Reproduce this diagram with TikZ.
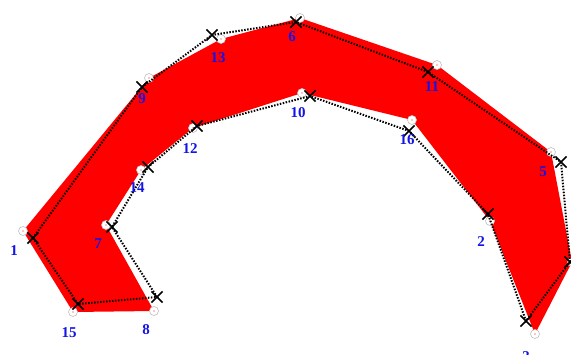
\documentclass[tikz,border=0pt]{standalone}
\usepackage{fontspec}
\setmainfont{Liberation Serif}
\usetikzlibrary{shapes.misc}
\definecolor{lblue}{RGB}{20,20,230}
\tikzset{
  vtx/.style={circle,draw=black!25,fill=white,line width=0.6pt,minimum size=9pt,inner sep=0pt},
  vdot/.style={circle,fill=red,minimum size=1.3pt,inner sep=0pt},
  xmark/.style={cross out,draw=black,line width=1.6pt,minimum size=9.5pt,inner sep=0pt},
  dotline/.style={draw=black,line width=2pt,dash pattern=on 1.5pt off 1.5pt},
  lbl/.style={text=lblue,font=\fontsize{15}{15}\selectfont\bfseries,inner sep=0pt}
}
\begin{document}
\begin{tikzpicture}[x=1pt,y=-1pt]
\useasboundingbox (0,0) rectangle (571,354);
% polygon vertices
\coordinate (v1) at (23,231);
\coordinate (v15) at (73,312);
\coordinate (v8) at (154,311);
\coordinate (v7) at (106,225);
\coordinate (v14) at (141,170);
\coordinate (v12) at (193,128);
\coordinate (v10) at (302,93);
\coordinate (v16) at (412,120);
\coordinate (v2) at (490,221);
\coordinate (v3) at (535,334);
\coordinate (v4) at (572,262);
\coordinate (v5) at (551,152);
\coordinate (v11) at (437,65);
\coordinate (v6) at (300,18);
\coordinate (v13) at (221,39);
\coordinate (v9) at (149,78);
\fill[red] (v1)--(v15)--(v8)--(v7)--(v14)--(v12)--(v10)--(v16)--(v2)--(v3)--(v4)--(v5)--(v11)--(v6)--(v13)--(v9)--cycle;
\foreach \i in {1,15,8,7,14,12,10,16,2,3,4,5,11,6,13,9}{
  \node[vtx] (c\i) at (v\i) {};
  \node[vdot] (d\i) at (v\i) {};
}
% X markers
\node[xmark] (x1) at (33,238) {};
\node[xmark] (x15) at (78,304) {};
\node[xmark] (x8) at (157,297) {};
\node[xmark] (x7) at (112,227) {};
\node[xmark] (x14) at (148,167) {};
\node[xmark] (x12) at (197,126) {};
\node[xmark] (x10) at (310,96) {};
\node[xmark] (x16) at (409,131) {};
\node[xmark] (x2) at (488,214) {};
\node[xmark] (x3) at (526,321) {};
\node[xmark] (x4) at (570,262) {};
\node[xmark] (x5) at (561,162) {};
\node[xmark] (x11) at (428,72) {};
\node[xmark] (x6) at (296,22) {};
\node[xmark] (x13) at (212,35) {};
\node[xmark] (x9) at (142,87) {};
\draw[dotline] (x1.center)--(x15.center)--(x8.center)--(x7.center)--(x14.center)--(x12.center)--(x10.center)--(x16.center)--(x2.center)--(x3.center)--(x4.center)--(x5.center)--(x11.center)--(x6.center)--(x13.center)--(x9.center)--(x1.center);
% labels
\node[lbl] (l1) at (14,251) {1};
\node[lbl] (l15) at (69,333) {15};
\node[lbl] (l8) at (146,330) {8};
\node[lbl] (l7) at (98,244) {7};
\node[lbl] (l14) at (137,188) {14};
\node[lbl] (l12) at (190,149) {12};
\node[lbl] (l10) at (298,113) {10};
\node[lbl] (l16) at (407,140) {16};
\node[lbl] (l2) at (481,242) {2};
\node[lbl] (l3) at (526,357) {3};
\node[lbl] (l4) at (577,281) {4};
\node[lbl] (l5) at (543,172) {5};
\node[lbl] (l11) at (432,87) {11};
\node[lbl] (l6) at (292,37) {6};
\node[lbl] (l13) at (218,58) {13};
\node[lbl] (l9) at (142,99) {9};
\end{tikzpicture}
\end{document}
